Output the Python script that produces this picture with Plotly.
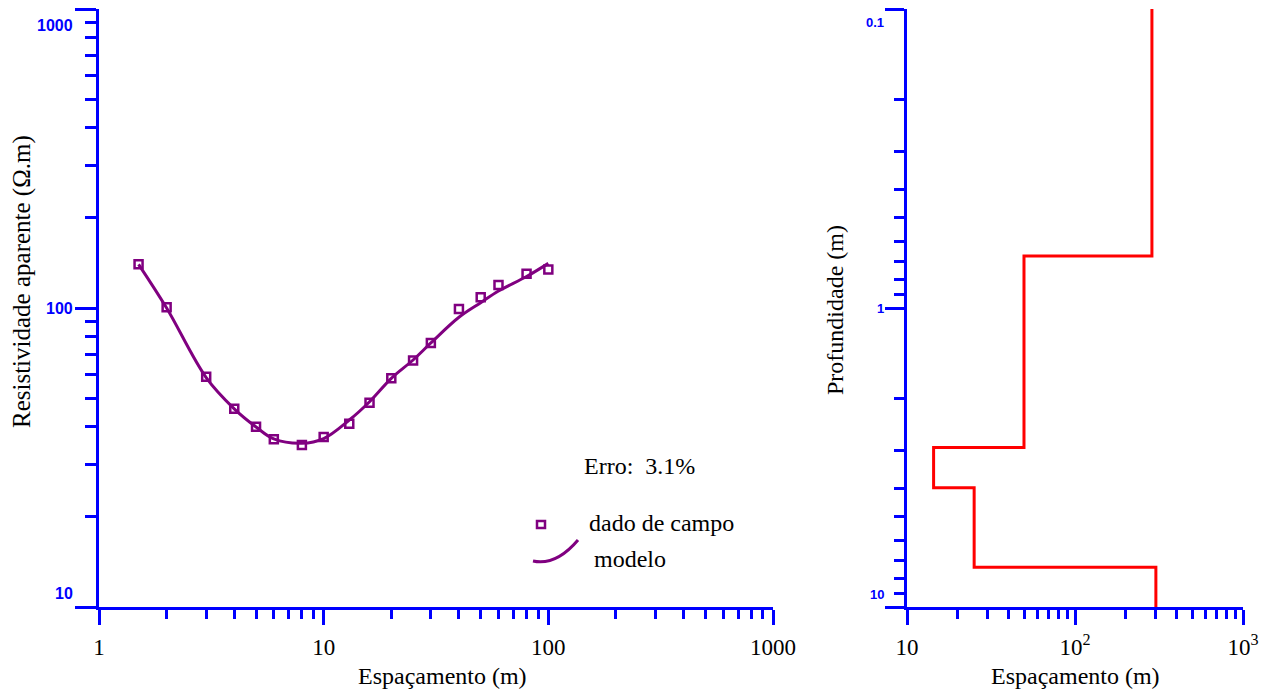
import numpy as np
import plotly.graph_objects as go

# field data (apparent resistivity vs spacing)
spacing = [1.5, 2, 3, 4, 5, 6, 8, 10, 13, 16, 20, 25, 30, 40, 50, 60, 80, 100]
rho_field = [140, 100.5, 58.9, 46.0, 40.1, 36.4, 34.8, 37.0, 41.0, 48.2,
             58.2, 66.8, 76.4, 99.2, 108.6, 119.4, 130.1, 134.6]
rho_model = [140, 100, 58.5, 46.0, 40.0, 36.5, 35.3, 36.6, 42.2, 48.6,
             58.2, 67.0, 76.4, 93.1, 104.2, 114.0, 127.4, 141.0]

# layered model (right panel)
layer_rho = [287, 49.7, 14.4, 25.1, 303]
layer_bounds = [0.67, 2.93, 3.99, 7.36]
depth_top, depth_bottom = 0.1, 10

left_ylabels = [1000, 100, 10]
right_ylabels = [0.1, 1, 10]

BLUE = "#0000ff"
PURPLE = "#800080"
SERIF = "Liberation Serif"
NARROW = "Liberation Sans Narrow, Liberation Sans, Arial, sans-serif"

# the page body has an 8px margin, so the figure is a bit smaller than the window
OFF = 8
W, H = 1269 - 2 * OFF, 694 - OFF


def px(x):
    return (x - OFF) / W


def py(y):
    return 1 - (y - OFF) / H


fig = go.Figure()

fig.add_trace(go.Scatter(
    x=spacing, y=rho_model, mode="lines",
    line=dict(color=PURPLE, width=3, shape="spline"),
    xaxis="x", yaxis="y", showlegend=False,
))
fig.add_trace(go.Scatter(
    x=spacing, y=rho_field, mode="markers",
    marker=dict(symbol="square-open", size=8, color=PURPLE, line=dict(width=2.5, color=PURPLE)),
    xaxis="x", yaxis="y", showlegend=False,
))

step_x = layer_rho + [layer_rho[-1]]
step_y = [depth_top] + layer_bounds + [depth_bottom]
fig.add_trace(go.Scatter(
    x=step_x, y=step_y, mode="lines",
    line=dict(color="#ff0000", width=3, shape="vh"),
    xaxis="x2", yaxis="y2", showlegend=False,
))

dom_y = [py(607), py(9)]
dom_l = [px(99), px(773)]
dom_r = [px(907), px(1243)]

line = dict(showline=True, linecolor=BLUE, linewidth=3, showgrid=False, automargin=False,
            zeroline=False, tickcolor=BLUE, tickwidth=3)
tickfont = dict(family=SERIF, size=23, color="black")

x_minor = [v * d for d in (1, 10, 100) for v in range(2, 10)]
fig.update_layout(
    width=W, height=H,
    margin=dict(l=0, r=0, t=0, b=0),
    paper_bgcolor="white", plot_bgcolor="white",
    xaxis=dict(domain=dom_l, anchor="y", type="log", range=[0, 3], ticks="outside",
               ticklen=15, tickvals=[1, 10, 100, 1000], ticktext=["1", "10", "100", "1000"],
               tickfont=tickfont, ticklabelstandoff=2,
               minor=dict(tickvals=x_minor, ticks="outside", ticklen=9, tickwidth=2.5,
                          tickcolor=BLUE, showgrid=False), **line),
    yaxis=dict(domain=dom_y, anchor="x", type="log", range=[1, 3], ticks="outside",
               ticklen=21, tickvals=[10, 100, 1000], showticklabels=False,
               minor=dict(tickvals=[v * d for d in (10, 100) for v in range(2, 10)],
                          ticks="outside", ticklen=11, tickwidth=3, tickcolor=BLUE,
                          showgrid=False), **line),
    xaxis3=dict(overlaying="x", anchor="y", side="top", type="log", range=[0, 3],
                ticks="inside", ticklen=15, tickvals=[10, 100], showticklabels=False, **line),
    yaxis3=dict(overlaying="y", anchor="x", side="right", type="log", range=[1, 3],
                ticks="inside", ticklen=21, tickvals=[100], showticklabels=False, **line),
    xaxis2=dict(domain=dom_r, anchor="y2", type="log", range=[1, 3], ticks="outside",
                ticklen=15, tickvals=[10, 100, 1000],
                ticktext=["10", "10<sup>2</sup>", "10<sup>3</sup>"],
                tickfont=tickfont, ticklabelstandoff=2,
                minor=dict(tickvals=[v * d for d in (10, 100) for v in range(2, 10)],
                           ticks="outside", ticklen=9, tickwidth=2.5, tickcolor=BLUE,
                           showgrid=False), **line),
    yaxis2=dict(domain=dom_y, anchor="x2", type="log", range=[1, -1], ticks="outside",
                ticklen=19, tickvals=[0.1, 1, 10], showticklabels=False,
                minor=dict(tickvals=[v * d for d in (0.1, 1) for v in range(2, 10)],
                           ticks="outside", ticklen=10, tickwidth=3, tickcolor=BLUE,
                           showgrid=False), **line),
    xaxis4=dict(overlaying="x2", anchor="y2", side="top", type="log", range=[1, 3],
                ticks="inside", ticklen=13, tickvals=[100], showticklabels=False, **line),
    yaxis4=dict(overlaying="y2", anchor="x2", side="right", type="log", range=[1, -1],
                ticks="inside", ticklen=12, tickvals=[1], showticklabels=False, **line),
)

ann = []
# y tick labels (offset inward like the original)
shifts_l = {1000: -16, 100: 0, 10: 14}
for v in left_ylabels:
    ann.append(dict(x=px(75), xref="paper", y=np.log10(v), yref="y", text=str(v),
                    xanchor="right", yanchor="middle", yshift=shifts_l[v], showarrow=False,
                    font=dict(family=NARROW, size=16, color=BLUE, weight="bold")))
shifts_r = {0.1: -13, 1: 0, 10: 13}
for v in right_ylabels:
    ann.append(dict(x=px(886), xref="paper", y=np.log10(v), yref="y2", text=str(v),
                    xanchor="right", yanchor="middle", yshift=shifts_r[v], showarrow=False,
                    font=dict(family=NARROW, size=13, color=BLUE, weight="bold")))

texts = [
    (22, 282, "Resistividade aparente (Ω.m)", -90, "center", 25),
    (442, 676, "Espaçamento (m)", 0, "center", 24),
    (1075, 676, "Espaçamento (m)", 0, "center", 24),
    (835, 310, "Profundidade (m)", -90, "center", 24),
    (582, 466, "Erro:&nbsp; 3.1%", 0, "left", 24),
    (587, 523, "dado de campo", 0, "left", 24),
    (592, 559, "modelo", 0, "left", 24),
]
for x, y, t, ang, xa, size in texts:
    ann.append(dict(x=px(x), y=py(y), xref="paper", yref="paper", text=t, textangle=ang,
                    xanchor=xa, yanchor="middle", showarrow=False,
                    font=dict(family=SERIF, size=size, color="black")))
fig.update_layout(annotations=ann)

# hand-drawn legend symbols
fig.add_shape(type="rect", xref="paper", yref="paper",
              x0=px(537), x1=px(545), y0=py(528), y1=py(521),
              line=dict(color=PURPLE, width=2.5))
fig.add_shape(type="path", xref="paper", yref="paper",
              path=f"M {px(533)},{py(561)} Q {px(556)},{py(566)} {px(578)},{py(540)}",
              line=dict(color=PURPLE, width=3))

fig.write_html("out.html")
